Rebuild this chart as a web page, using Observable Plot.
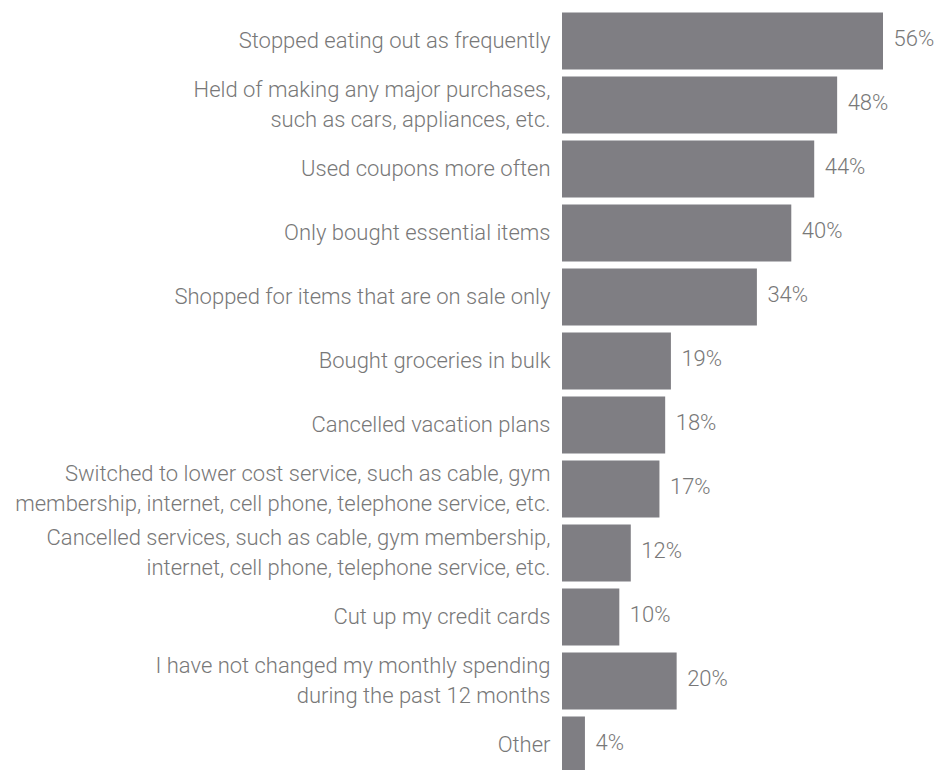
<!DOCTYPE html>
<html>
<head>
<meta charset="utf-8">
<script src="https://cdn.jsdelivr.net/npm/d3@7"></script>
<script src="https://cdn.jsdelivr.net/npm/@observablehq/plot@0.6"></script>
<style>
  html, body { margin: 0; padding: 0; background: #fff; overflow: hidden; }
  #chart svg { display: block; }
</style>
</head>
<body>
<div id="chart"></div>
<script>
const categories = [
  "Stopped eating out as frequently",
  "Held of making any major purchases,\nsuch as cars, appliances, etc.",
  "Used coupons more often",
  "Only bought essential items",
  "Shopped for items that are on sale only",
  "Bought groceries in bulk",
  "Cancelled vacation plans",
  "Switched to lower cost service, such as cable, gym\nmembership, internet, cell phone, telephone service, etc.",
  "Cancelled services, such as cable, gym membership,\ninternet, cell phone, telephone service, etc.",
  "Cut up my credit cards",
  "I have not changed my monthly spending\nduring the past 12 months",
  "Other"
];
const values = [56, 48, 44, 40, 34, 19, 18, 17, 12, 10, 20, 4];

const data = categories.map((c, i) => ({category: c, value: values[i]}));

const barColor = "#7f7e83";
const textColor = "#787878";

const chart = Plot.plot({
  width: 952,
  height: 777,
  marginLeft: 562,
  marginRight: 69,
  marginTop: 8.5,
  marginBottom: 0,
  style: {fontFamily: "Roboto, sans-serif", fontWeight: 300, fontSize: "22px", color: textColor},
  x: {domain: [0, 56], axis: null},
  y: {domain: categories, padding: 0, axis: null},
  marks: [
    Plot.barX(data, {x: "value", y: "category", fill: barColor, insetTop: 3.5, insetBottom: 3.5}),
    Plot.text(data, {x: 0, y: "category", text: "category", textAnchor: "end", dx: -12, dy: -3, lineHeight: 1.38, fill: textColor, fontSize: 22}),
    Plot.text(data, {x: "value", y: "category", text: d => d.value + "%", textAnchor: "start", dx: 10, dy: -3, fill: textColor, fontSize: 22})
  ]
});
document.getElementById("chart").appendChild(chart);
</script>
</body>
</html>
